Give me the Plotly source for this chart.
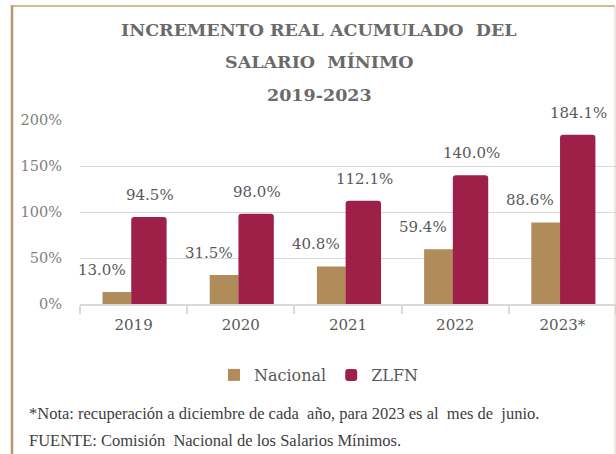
import plotly.graph_objects as go

# ---- data ----
categories = ["2019", "2020", "2021", "2022", "2023*"]
nacional = [13.0, 31.5, 40.8, 59.4, 88.6]
zlfn = [94.5, 98.0, 112.1, 140.0, 184.1]
series_names = ["Nacional", "ZLFN"]
y_ticks = [0, 50, 100, 150, 200]
y_tick_labels = ["0%", "50%", "100%", "150%", "200%"]
title_lines = ["INCREMENTO REAL ACUMULADO  DEL", "SALARIO  MÍNIMO", "2019-2023"]
notes = ["*Nota: recuperación a diciembre de cada  año, para 2023 es al  mes de  junio.",
         "FUENTE: Comisión  Nacional de los Salarios Mínimos."]

# ---- layout geometry (pixels) ----
W, H = 616, 454
ML, MR, MT, MB = 80, 0, 120, 150
PW = W - ML - MR
PH = H - MT - MB

def px_x(px):
    return (px - ML) / PW

def px_y(py):
    return (H - MB - py) / PH

C_NAC = "#B08C5A"
C_ZLFN = "#9E2048"
SERIF = "DejaVu Serif"

fig = go.Figure()
fig.add_trace(go.Bar(
    x=categories, y=nacional, name=series_names[0],
    marker=dict(color=C_NAC, line=dict(width=0)),
    offset=-0.29, width=0.27, hoverinfo="skip",
))
fig.add_trace(go.Bar(
    x=categories, y=zlfn, name=series_names[1],
    marker=dict(color=C_ZLFN, line=dict(width=0), cornerradius=3),
    offset=-0.022, width=0.33, hoverinfo="skip",
))

annotations = []
for i, v in enumerate(nacional):
    annotations.append(dict(x=i, y=v, xref="x", yref="y", text=f"{v:.1f}%",
                            showarrow=False, xshift=-32, yshift=11, yanchor="bottom",
                            font=dict(family=SERIF, size=15, color="#595959")))
for i, v in enumerate(zlfn):
    annotations.append(dict(x=i, y=v, xref="x", yref="y", text=f"{v:.1f}%",
                            showarrow=False, xshift=16, yshift=11, yanchor="bottom",
                            font=dict(family=SERIF, size=15, color="#595959")))

for txt, py in zip(title_lines, [30, 62, 95]):
    annotations.append(dict(x=px_x(319), y=px_y(py), xref="paper", yref="paper",
                            text=txt, showarrow=False, xanchor="center", yanchor="middle",
                            font=dict(family=SERIF, size=17.5, color="#6A6A6A", weight="bold")))

for txt, py in zip(notes, [413, 440]):
    annotations.append(dict(x=px_x(27), y=px_y(py), xref="paper", yref="paper",
                            text=txt, showarrow=False, xanchor="left", yanchor="middle",
                            font=dict(family="Liberation Serif", size=16.5, color="#404040")))

shapes = [
    dict(type="line", xref="paper", yref="paper", x0=px_x(12), x1=px_x(12),
         y0=px_y(5), y1=px_y(460), line=dict(color="#B8956A", width=2.5)),
    dict(type="line", xref="paper", yref="paper", x0=px_x(11), x1=px_x(615),
         y0=px_y(6), y1=px_y(6), line=dict(color="#C4A373", width=1.5)),
    dict(type="line", xref="paper", yref="paper", x0=px_x(615), x1=px_x(615),
         y0=px_y(6), y1=px_y(460), line=dict(color="#DCCFBF", width=1)),
]

fig.update_layout(
    width=W, height=H,
    margin=dict(l=ML, r=MR, t=MT, b=MB),
    paper_bgcolor="white", plot_bgcolor="white",
    barmode="overlay",
    showlegend=True,
    legend=dict(orientation="h", x=px_x(319), xanchor="center", y=px_y(375), yanchor="middle",
                font=dict(family=SERIF, size=16, color="#595959"),
                traceorder="normal", bgcolor="rgba(0,0,0,0)"),
    annotations=annotations,
    shapes=shapes,
    xaxis=dict(type="category", range=[-0.5, 4.5], tickson="boundaries", ticks="outside",
               ticklen=8, tickcolor="#D9D9D9", tickwidth=1.5, showline=True,
               linecolor="#D9D9D9", linewidth=1.5, showgrid=False, ticklabelstandoff=6,
               tickangle=0,
               tickfont=dict(family=SERIF, size=15, color="#595959"), fixedrange=True),
    yaxis=dict(range=[0, 200], tickvals=y_ticks, ticktext=y_tick_labels,
               showgrid=True, gridcolor="#D9D9D9", gridwidth=1.2, zeroline=False,
               showline=False, ticks="", ticklabelstandoff=17,
               tickfont=dict(family=SERIF, size=14.5, color="#808080"), fixedrange=True),
)

fig.write_html("out.html", config={"displayModeBar": False},
               post_script="document.body.style.margin='0';")
